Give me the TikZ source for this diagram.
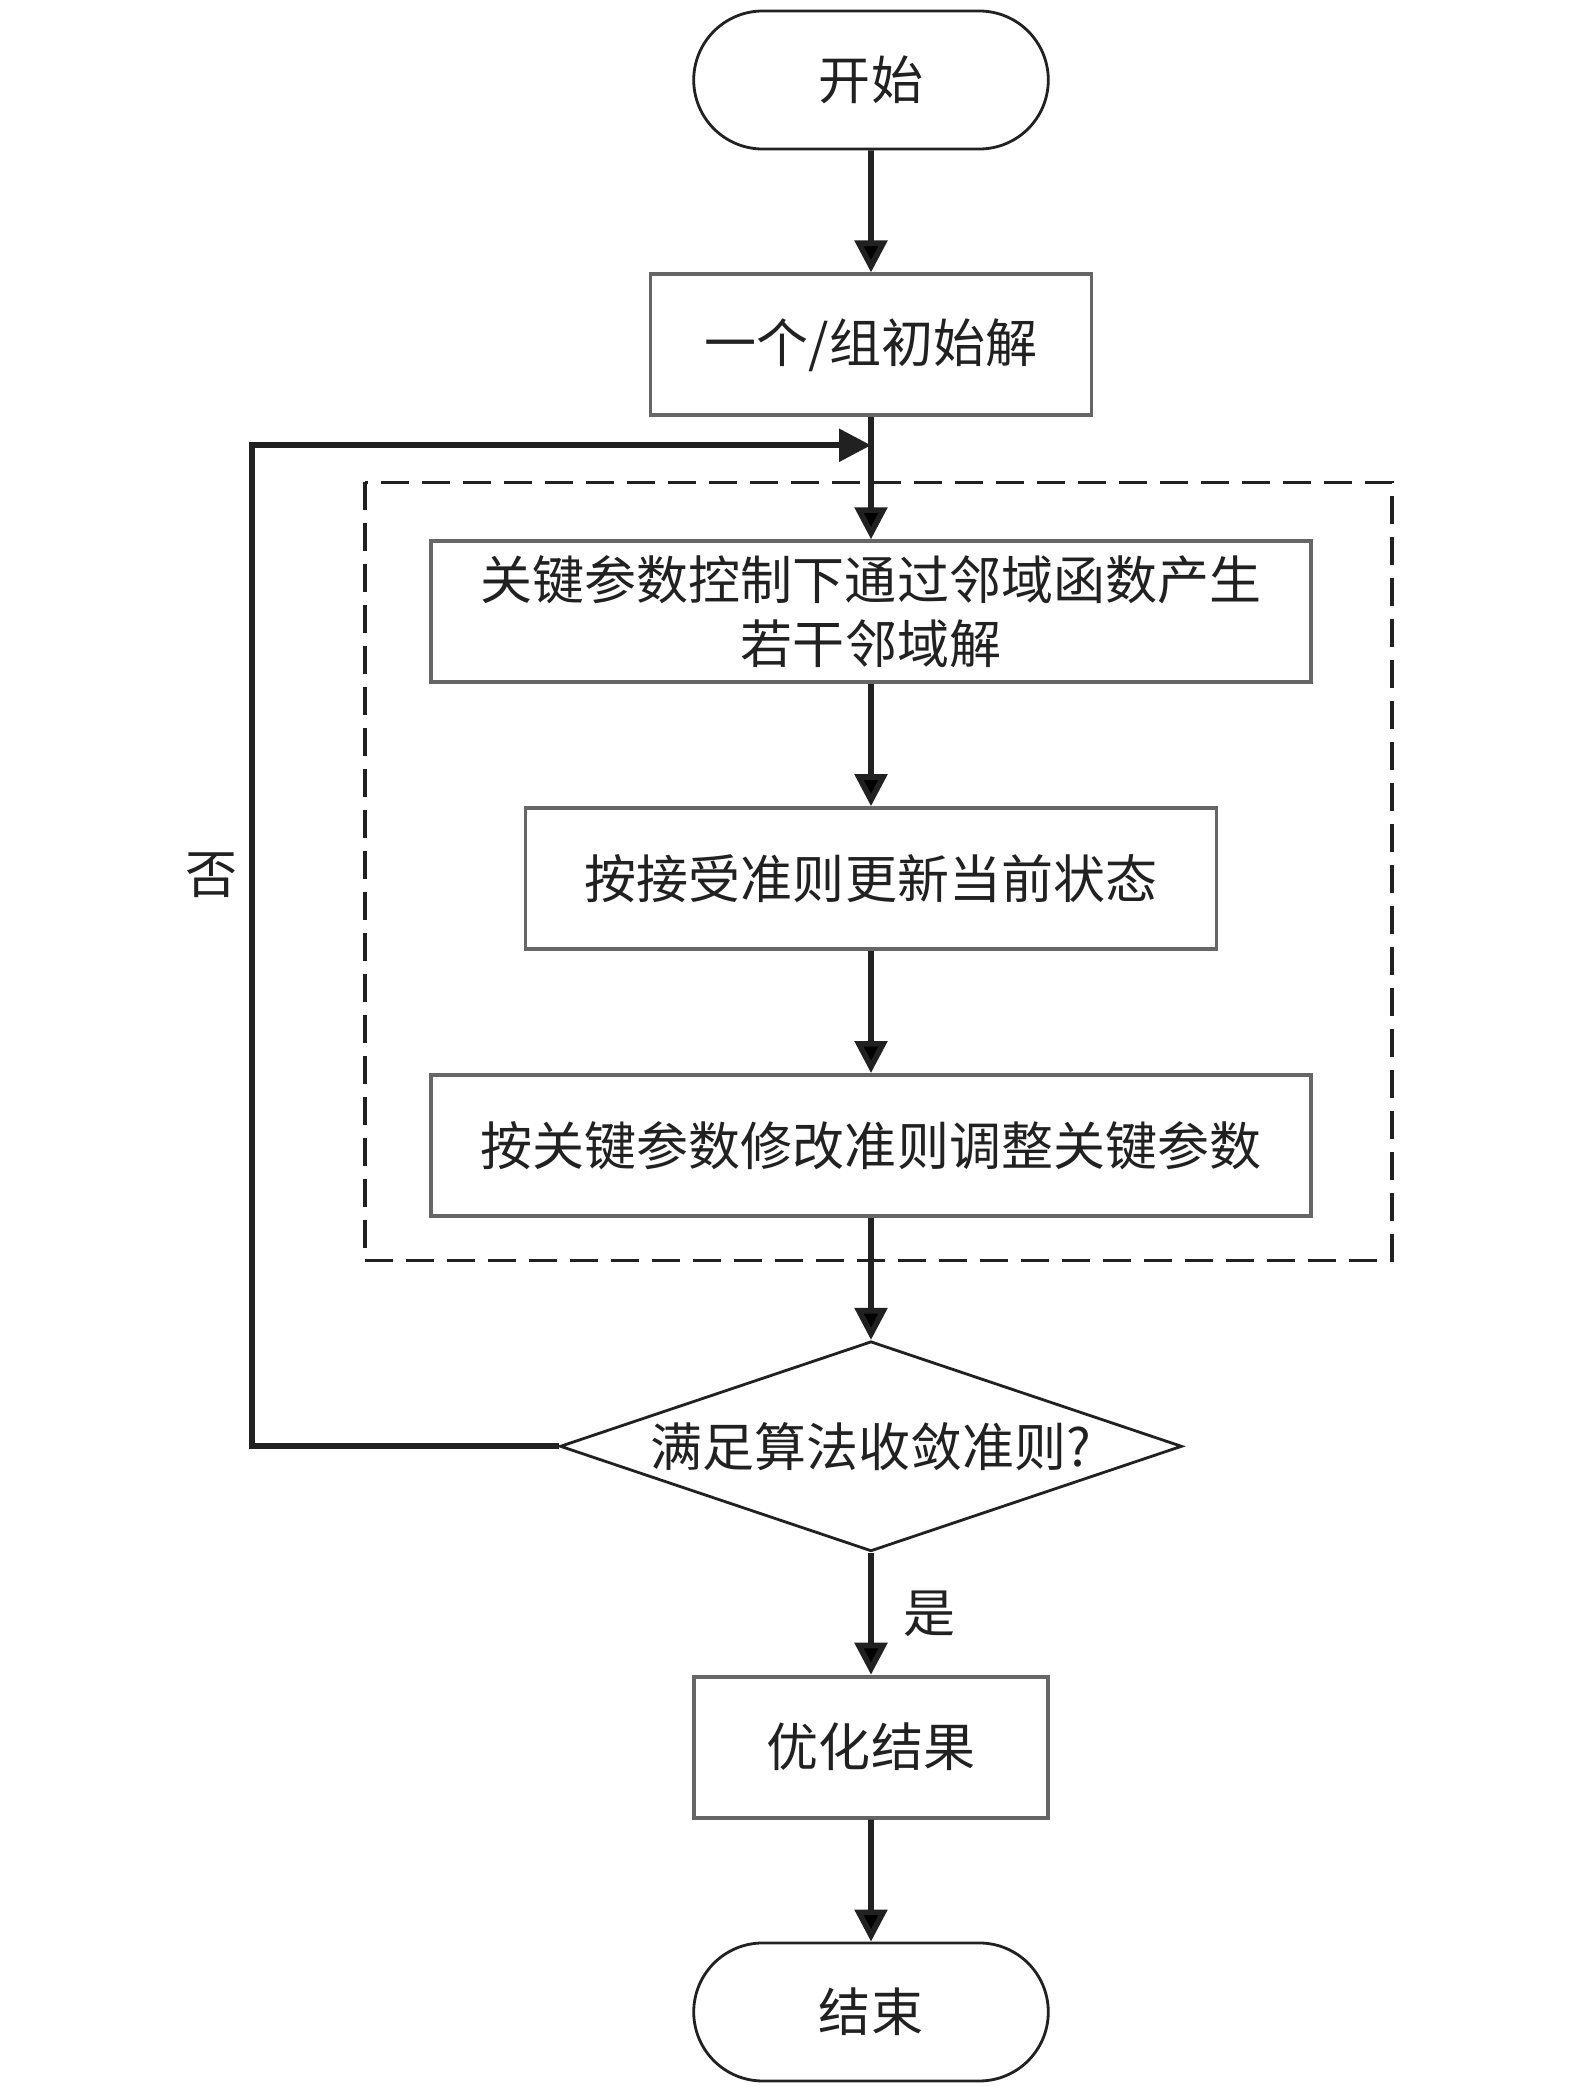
\documentclass[tikz,border=0pt]{standalone}
\usepackage{fontspec}
\newfontfamily\cjk{Noto Sans CJK SC}
\usetikzlibrary{positioning, shapes, arrows.meta}

\definecolor{boxgray}{gray}{0.40}
\definecolor{inkgray}{gray}{0.13}

\begin{document}
\begin{tikzpicture}[
        node distance = 1.22cm,
        every node/.style = {font=\cjk\fontsize{14.8pt}{18.2pt}\selectfont, text=inkgray},
        terminal/.style = {rounded rectangle, draw=inkgray, line width=0.8pt, minimum width=3.78cm, minimum height=1.38cm},
        process/.style = {rectangle, draw=boxgray, line width=1.1pt, minimum height=1.41cm, align=center},
        decision/.style = {diamond, draw=inkgray, line width=0.8pt, aspect=3, inner sep=0pt, minimum width=6.22cm, minimum height=2.1cm},
        flow/.style = {draw=inkgray, line width=1.6pt, -{Triangle[length=3.2mm, width=3.2mm]}},
        frame/.style = {draw=inkgray, line width=0.9pt, dash pattern=on 2.8mm off 1.3mm}
    ]
        \useasboundingbox (0,0) rectangle (15.75,-20.87);
        \node[terminal] (start) at (8.71,-0.8) {开始};
        \node[process, minimum width=4.41cm, below=of start] (init) {一个/组初始解};
        \node[process, minimum width=8.8cm, below=of init] (gen) {关键参数控制下通过邻域函数产生\\若干邻域解};
        \node[process, minimum width=6.91cm, below=of gen] (accept) {按接受准则更新当前状态};
        \node[process, minimum width=8.8cm, below=of accept] (adjust) {按关键参数修改准则调整关键参数};
        \node[decision, below=of adjust] (check) {满足算法收敛准则?};
        \node[process, minimum width=3.54cm, below=of check] (result) {优化结果};
        \node[terminal, below=of result] (end) {结束};
        %---------------------------
        \coordinate[below=0.28cm of init] (back);
        \coordinate[left=6.19cm of back] (turn);
        \draw[frame] ([shift={(-0.64,0.57)}]gen.north west) rectangle ([shift={(0.79,-0.43)}]adjust.south east);
        %--------------------------
        \path[flow]
        (start) edge (init)
        (init) edge (gen)
        (gen) edge (accept)
        (accept) edge (adjust)
        (adjust) edge (check)
        (check) edge node[right=0.18cm] {是} (result)
        (result) edge (end);
        \draw[flow] (check.west) -| node[pos=0.785, left=0pt] {否} (turn) -- (back);
\end{tikzpicture}
\end{document}
